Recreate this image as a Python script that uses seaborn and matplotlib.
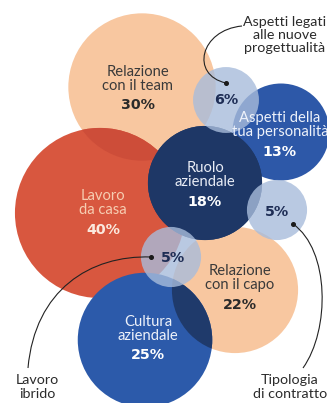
import numpy as np
import pandas as pd
import seaborn as sns
import matplotlib
matplotlib.use("Agg")
import matplotlib.pyplot as plt
from matplotlib.patches import Circle, PathPatch
from matplotlib.path import Path

# ---- data ----
main_labels = ["Relazione\ncon il team", "Lavoro\nda casa", "Relazione\ncon il capo",
               "Aspetti della\ntua personalità", "Ruolo\naziendale", "Cultura\naziendale"]
main_values = [30, 40, 22, 13, 18, 25]
small_labels = ["Aspetti legati\nalle nuove\nprogettualità", "Tipologia\ndi contratto", "Lavoro\nibrido"]
small_values = [6, 5, 5]

# ---- layout (pixel space) ----
main_cx = [142, 100, 235, 281, 205, 145]
main_cy = [87, 213, 290, 132, 183, 340]
main_colors = ["#F8C7A0", "#D8573F", "#F8C7A0", "#2D58A8", "#1E3766", "#2C5AAA"]
name_y = [79, 203, 278, 125, 174.5, 329]
pct_y = [105, 230, 305, 152, 202, 355]
name_x = [138, 103, 240, 280, 205, 148]
name_col = ["#3A3A3A", "#F6CDB2", "#3A3A3A", "#EEF2FA", "#E9EDF6", "#EEF2FA"]
pct_col = ["#2A2A2A", "#FBE9DE", "#2A2A2A", "#FFFFFF", "#FFFFFF", "#FFFFFF"]

small_cx = [226, 277, 171]
small_cy = [100, 210, 257]
small_txt_xy = [(226, 100), (277, 212), (173, 258)]
note_xy = [(285, 35), (290, 387), (37, 387)]
dots = [(226, 83), (293, 224), (151, 257)]
curves = [
    [(242, 26), (200, 30), (190, 75), (226, 83)],
    [(293, 224), (330, 250), (330, 330), (303, 368)],
    [(151, 257), (90, 255), (35, 290), (28, 368)],
]

K = 13.45            # px radius per sqrt(value)
DPI = 100
A = (2 * K * 72 / DPI) ** 2   # marker area (pt^2) per unit value

fig = plt.figure(figsize=(3.27, 4.03), dpi=DPI)
ax = fig.add_axes([0, 0, 1, 1])
ax.set_xlim(0, 327)
ax.set_ylim(403, 0)
ax.axis("off")

df_main = pd.DataFrame({"cat": [l.replace("\n", " ") for l in main_labels],
                        "value": main_values, "cx": main_cx, "cy": main_cy})
pal = dict(zip(df_main["cat"], main_colors))
sns.scatterplot(data=df_main, x="cx", y="cy", hue="cat", palette=pal,
                size="value", sizes=(0, A * 40), size_norm=(0, 40),
                linewidth=0, legend=False, ax=ax, zorder=2)

def circ(i):
    return Circle((main_cx[i], main_cy[i]), K * np.sqrt(main_values[i]), transform=ax.transData)

# overlap shading (multiply-like)
ov = circ(1); ov.set_facecolor("#CD4D39"); ov.set_edgecolor("none"); ov.set_zorder(2.5)
ax.add_patch(ov); ov.set_clip_path(circ(0))
ov2 = circ(5); ov2.set_facecolor("#1F3A6B"); ov2.set_edgecolor("none"); ov2.set_zorder(2.5)
ax.add_patch(ov2); ov2.set_clip_path(circ(2))
ov3 = circ(4); ov3.set_facecolor("#1E3766"); ov3.set_edgecolor("none"); ov3.set_zorder(2.6)
ax.add_patch(ov3)

df_small = pd.DataFrame({"cat": [l.replace("\n", " ") for l in small_labels],
                         "value": small_values, "cx": small_cx, "cy": small_cy})
sns.scatterplot(data=df_small, x="cx", y="cy", color="#A8BCDB", alpha=0.8,
                size="value", sizes=(0, A * 40), size_norm=(0, 40),
                linewidth=0, legend=False, ax=ax, zorder=4)

LAB = "Lato"
for i in range(len(main_labels)):
    ax.text(name_x[i], name_y[i], main_labels[i], ha="center", va="center",
            fontsize=10.6, family=LAB, color=name_col[i], linespacing=1.0, zorder=6)
    ax.text(name_x[i], pct_y[i], f"{main_values[i]}%", ha="center", va="center",
            fontsize=10.3, family="DejaVu Sans", weight="bold", color=pct_col[i], zorder=6)

for i in range(len(small_labels)):
    x, y = small_txt_xy[i]
    ax.text(x, y, f"{small_values[i]}%", ha="center", va="center", fontsize=10.3,
            family="DejaVu Sans", weight="bold", color="#1E2D55", zorder=6)
    nx, ny = note_xy[i]
    ax.text(nx, ny, small_labels[i], ha="center", va="center", fontsize=10.3,
            family=LAB, color="#2B2B2B", linespacing=1.12, zorder=6)
    pts = curves[i]
    p = Path(pts, [Path.MOVETO, Path.CURVE4, Path.CURVE4, Path.CURVE4])
    ax.add_patch(PathPatch(p, facecolor="none", edgecolor="#222222", lw=0.8, zorder=5))
    ax.plot([dots[i][0]], [dots[i][1]], "o", ms=2.6, color="#1A1A1A", zorder=5)

fig.savefig("out.png", dpi=DPI)
